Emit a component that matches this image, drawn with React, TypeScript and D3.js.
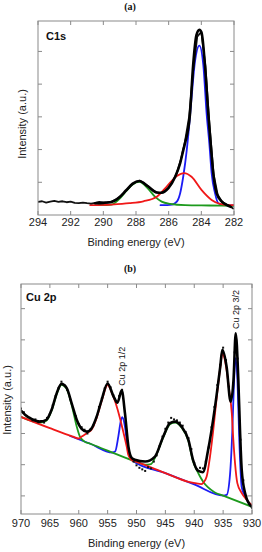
import React from "react";
import * as d3 from "d3";

type Pt = [number, number];

// ---- (a) C1s ----
const c1s_x_ticks: number[] = [294, 292, 290, 288, 286, 284, 282];
const c1s_y_ticks: number[] = [1, 2, 3, 4, 5];

// measured points
const c1s_data: Pt[] = [
    [294.0, 0.40], [293.75, 0.42], [293.5, 0.38], [293.25, 0.41], [293.0, 0.43], [292.75, 0.40],
    [292.5, 0.42], [292.25, 0.39], [292.0, 0.41], [291.75, 0.37], [291.5, 0.36], [291.25, 0.38],
    [291.0, 0.36], [290.75, 0.35], [290.5, 0.37], [290.25, 0.40], [290.0, 0.38], [289.75, 0.39],
    [289.5, 0.41], [289.25, 0.46], [289.0, 0.55], [288.75, 0.66], [288.5, 0.80], [288.25, 0.93],
    [288.0, 1.01], [287.75, 1.05], [287.5, 0.97], [287.25, 0.88], [287.0, 0.76], [286.75, 0.69],
    [286.5, 0.67], [286.25, 0.72], [286.0, 0.83], [285.75, 1.03], [285.5, 1.28], [285.25, 1.70],
    [285.0, 2.25], [284.75, 3.00], [284.5, 4.40], [284.25, 5.45], [284.0, 5.60], [283.75, 4.55],
    [283.5, 2.75], [283.25, 1.25], [283.0, 0.62], [282.75, 0.42], [282.5, 0.32], [282.25, 0.27],
    [282.05, 0.20],
];
const c1s_fit: Pt[] = [
    [290.5, 0.36], [290.0, 0.37], [289.5, 0.40], [289.0, 0.55], [288.6, 0.76], [288.2, 0.96],
    [287.8, 1.04], [287.25, 0.87], [286.73, 0.69], [286.43, 0.68], [286.02, 0.82], [285.6, 1.17],
    [285.3, 1.58], [285.1, 1.99], [285.0, 2.19], [284.7, 3.06], [284.5, 4.59], [284.3, 5.50],
    [284.12, 5.66], [283.98, 5.56], [283.78, 4.59], [283.57, 3.06], [283.43, 2.19], [283.27, 1.28],
    [283.06, 0.66], [282.75, 0.41], [282.45, 0.31], [282.2, 0.25],
];
const c1s_blue: Pt[] = [
    [286.5, 0.30], [285.8, 0.32], [285.5, 0.41], [285.3, 0.66], [285.1, 1.20], [284.9, 1.95],
    [284.75, 2.70], [284.6, 3.57], [284.39, 4.69], [284.12, 5.18], [283.88, 4.59], [283.67, 3.06],
    [283.51, 2.19], [283.37, 1.28], [283.16, 0.66], [282.96, 0.36], [282.6, 0.30], [282.0, 0.29],
];
const c1s_red: Pt[] = [
    [290.8, 0.30], [289.5, 0.32], [288.4, 0.36], [287.55, 0.42], [286.73, 0.56], [286.12, 0.87],
    [285.5, 1.19], [285.06, 1.28], [284.6, 1.17], [283.98, 0.76], [283.37, 0.46], [282.86, 0.34],
    [282.2, 0.30], [282.0, 0.30],
];
const c1s_green: Pt[] = [
    [290.3, 0.30], [289.5, 0.32], [289.0, 0.50], [288.6, 0.73], [288.2, 0.93], [287.8, 1.01],
    [287.25, 0.80], [286.84, 0.56], [286.43, 0.41], [285.9, 0.34], [285.0, 0.30], [283.5, 0.29],
    [282.0, 0.28],
];

// ---- (b) Cu 2p ----
const cu_x_ticks: number[] = [970, 965, 960, 955, 950, 945, 940, 935, 930];
const cu_y_ticks: number[] = [0, 1, 2, 3, 4, 5, 6];

const cu_data: Pt[] = [
    [970.0, 2.80], [969.5, 2.68], [969.0, 2.55], [968.5, 2.50], [968.0, 2.42], [967.5, 2.45],
    [967.0, 2.36], [966.5, 2.40], [966.0, 2.35], [965.5, 2.50], [965.0, 2.62], [964.5, 2.90],
    [964.0, 3.20], [963.5, 3.45], [963.0, 3.66], [962.5, 3.55], [962.0, 3.40], [961.5, 3.10],
    [961.0, 2.80], [960.5, 2.55], [960.0, 2.30], [959.5, 2.20], [959.0, 2.12], [958.5, 2.00],
    [958.0, 2.12], [957.5, 2.25], [957.0, 2.50], [956.5, 2.85], [956.0, 3.12], [955.5, 3.45],
    [955.0, 3.66], [954.5, 3.48], [954.0, 3.22], [953.5, 3.02], [953.0, 3.20], [952.5, 3.40],
    [952.0, 2.70], [951.5, 1.75], [951.0, 1.25], [950.5, 1.10], [950.0, 0.98], [949.5, 0.90],
    [949.0, 0.85], [948.5, 0.80], [948.0, 0.92], [947.5, 0.88], [947.0, 1.10], [946.5, 1.30],
    [946.0, 1.60], [945.5, 1.90], [945.0, 2.15], [944.5, 2.35], [944.0, 2.50], [943.5, 2.45],
    [943.0, 2.42], [942.5, 2.35], [942.0, 2.25], [941.5, 2.05], [941.0, 1.85], [940.5, 1.50],
    [940.0, 1.05], [939.5, 0.85], [939.0, 0.90], [938.5, 0.88], [938.0, 1.10], [937.5, 1.55],
    [937.0, 2.20], [936.5, 2.85], [936.0, 3.55], [935.5, 4.20], [935.0, 4.75], [934.5, 4.35],
    [934.0, 3.50], [933.5, 3.20], [933.0, 4.60], [932.5, 4.40], [932.0, 1.80], [931.5, 0.50],
    [931.0, 0.00], [930.5, -0.25], [930.0, -0.38],
];
const cu_fit: Pt[] = [
    [970, 2.73], [969.3, 2.60], [968.1, 2.46], [966.7, 2.38], [965.6, 2.44], [964.7, 2.76],
    [963.8, 3.30], [963.0, 3.59], [962.1, 3.46], [961.2, 2.95], [960.35, 2.44], [959.5, 2.15],
    [958.6, 2.06], [957.76, 2.17], [956.9, 2.54], [956.03, 3.08], [955.0, 3.60], [954.0, 3.20],
    [953.3, 2.99], [952.56, 3.38], [952.0, 2.65], [951.4, 1.58], [950.8, 1.21], [950.3, 1.16],
    [948.5, 1.10], [946.8, 1.26], [945.4, 1.89], [944.2, 2.33], [943.3, 2.38], [942.2, 2.22],
    [941.0, 1.79], [940.2, 1.15], [939.3, 0.80], [938.5, 0.76], [937.6, 1.47], [936.4, 2.86],
    [935.5, 4.14], [935.14, 4.68], [934.4, 4.14], [933.7, 3.02], [933.2, 3.72], [932.82, 5.21],
    [932.37, 3.72], [932.08, 2.12], [931.78, 0.83], [931.2, 0.09], [930.35, -0.29], [930, -0.35],
];
const cu_green: Pt[] = [
    [970, 2.53], [968.1, 2.40], [966.7, 2.35], [965.6, 2.41], [964.7, 2.73], [963.8, 3.27],
    [963.0, 3.56], [962.1, 3.43], [961.2, 2.90], [960.35, 2.22], [959.8, 1.90], [959.0, 1.74],
    [958.0, 1.67], [955, 1.45], [950, 1.09], [948.5, 1.00], [947.5, 1.02], [946.8, 1.22],
    [945.4, 1.86], [944.2, 2.30], [943.3, 2.35], [942.2, 2.19], [941.0, 1.75], [940.2, 1.10],
    [939.5, 0.80], [939.0, 0.62], [938.4, 0.44], [937.6, 0.27], [936.5, 0.12], [935, 0.01],
    [930, -0.35],
];
const cu_blue: Pt[] = [
    [961.5, 1.92], [958, 1.67], [954.2, 1.39], [953.7, 1.42], [953.15, 1.90], [952.74, 2.38],
    [952.45, 2.52], [952.0, 2.22], [951.6, 1.63], [951.1, 1.26], [950.6, 1.12], [945, 0.73],
    [940, 0.37], [935, 0.01], [934.4, 0.03], [933.8, 0.70], [933.4, 2.12], [933.1, 3.72],
    [932.87, 4.41], [932.5, 3.61], [932.2, 1.79], [931.8, 0.30], [931.2, -0.02], [930, -0.35],
];
const cu_red: Pt[] = [
    [970, 2.53], [965, 2.17], [961, 1.90], [960, 1.84], [959.5, 1.90], [958.6, 2.01],
    [957.76, 2.13], [956.9, 2.50], [956.03, 3.04], [955.0, 3.55], [954.3, 3.32], [953.6, 2.97],
    [952.86, 2.49], [952.3, 2.06], [951.7, 1.58], [951.4, 1.30], [950.8, 1.14], [950, 1.09],
    [945, 0.73], [941, 0.45], [939.6, 0.40], [938.8, 0.38], [938.43, 0.42], [937.85, 0.62],
    [937.27, 1.26], [936.7, 2.12], [936.1, 3.18], [935.5, 4.10], [935.14, 4.55], [934.4, 4.04],
    [933.96, 3.40], [933.5, 2.65], [933.23, 1.79], [932.94, 1.05], [932.54, 0.41], [931.78, 0.09],
    [930.9, -0.13], [930, -0.30],
];

const BLUE  = "#1c1cf5";
const RED   = "#f01818";
const GREEN = "#1d9a1d";
const AXIS  = "#8a8a8a";
const SANS  = "'Liberation Sans', Arial, sans-serif";
const SERIF = "'Liberation Serif', 'Times New Roman', serif";

type Box = { left: number, top: number, right: number, bottom: number };

type PanelProps = {
    id:        string,
    box:       Box,
    x_domain:  [number, number],
    y_domain:  [number, number],
    x_ticks:   number[],
    y_ticks:   number[],
    tag:       string,
    tag_y:     number,
    label:     string,
    label_pos: [number, number],
    tick_y:    number,
    title_y:   number,
    ylabel:    [number, number],
    data:      Pt[],
    data_dots: boolean,
    fit:       Pt[],
    green:     Pt[],
    blue:      Pt[],
    red:       Pt[],
    notes:     { text: string, ev: number, v: number }[],
};

function Panel(p: PanelProps): JSX.Element {
    const { box } = p;
    const x = d3.scaleLinear().domain(p.x_domain).range([box.left, box.right]);
    const y = d3.scaleLinear().domain(p.y_domain).range([box.bottom, box.top]);
    const line = d3.line<Pt>().x(d => x(d[0])).y(d => y(d[1])).curve(d3.curveMonotoneX);
    const raw  = d3.line<Pt>().x(d => x(d[0])).y(d => y(d[1])).curve(d3.curveLinear);
    const w: number = box.right - box.left;
    const h: number = box.bottom - box.top;
    const tl = 4; // tick length, pointing inward

    return <g>
        <defs>
            <clipPath id={p.id}>
                <rect x={box.left} y={box.top} width={w} height={h} />
            </clipPath>
        </defs>

        <text x={130} y={p.tag_y} fontFamily={SERIF} fontWeight="bold" fontSize={10}
            textAnchor="middle" fill="#111">{p.tag}</text>

        <g clipPath={`url(#${p.id})`} fill="none" strokeLinejoin="round" strokeLinecap="round">
            <path d={line(p.blue)!}  stroke={BLUE}  strokeWidth={1.8} />
            <path d={line(p.green)!} stroke={GREEN} strokeWidth={1.8} />
            <path d={line(p.red)!}   stroke={RED}   strokeWidth={1.8} />
            {p.data_dots
                ? p.data.map((d, i) =>
                    <rect key={i} x={x(d[0]) - 1} y={y(d[1]) - 1} width={2} height={2} fill="#111" />)
                : <path d={raw(p.data)!} stroke="#111" strokeWidth={1.8} />}
            <path d={line(p.fit)!} stroke="#000" strokeWidth={2.6} />
        </g>

        <rect x={box.left} y={box.top} width={w} height={h} fill="none" stroke={AXIS} strokeWidth={1} />
        <g stroke={AXIS} strokeWidth={1}>
            {p.x_ticks.map(t => <g key={t}>
                <line x1={x(t)} x2={x(t)} y1={box.bottom} y2={box.bottom - tl} />
                <line x1={x(t)} x2={x(t)} y1={box.top} y2={box.top + tl} />
            </g>)}
            {p.y_ticks.map(t => <g key={t}>
                <line x1={box.left} x2={box.left + tl} y1={y(t)} y2={y(t)} />
                <line x1={box.right} x2={box.right - tl} y1={y(t)} y2={y(t)} />
            </g>)}
        </g>

        <g fontFamily={SANS} fontSize={11} fill="#222" textAnchor="middle">
            {p.x_ticks.map(t => <text key={t} x={x(t)} y={p.tick_y}>{t}</text>)}
            <text x={(box.left + box.right) / 2} y={p.title_y}>Binding energy (eV)</text>
            <text transform={`translate(${p.ylabel[0]},${p.ylabel[1]}) rotate(-90)`}>Intensity (a.u.)</text>
        </g>

        <text x={p.label_pos[0]} y={p.label_pos[1]} fontFamily={SANS} fontWeight="bold"
            fontSize={11} fill="#111">{p.label}</text>

        {p.notes.map(n =>
            <text key={n.text} transform={`translate(${x(n.ev) + 3.5},${y(n.v)}) rotate(-90)`}
                fontFamily={SANS} fontSize={9} fill="#111">{n.text}</text>)}
    </g>
}

export default function App(): JSX.Element {
    return <div style={{ position: "absolute", left: 0, top: 0 }}>
        <svg width={262} height={552} style={{ display: "block", background: "#fff" }}>
            <Panel
                id="clip-a"
                box={{ left: 38, top: 21, right: 234, bottom: 215 }}
                x_domain={[294, 282]}
                y_domain={[0, 5.93]}
                x_ticks={c1s_x_ticks}
                y_ticks={c1s_y_ticks}
                tag="(a)" tag_y={10}
                label="C1s" label_pos={[46, 39.5]}
                tick_y={226} title_y={246}
                ylabel={[26, 124]}
                data={c1s_data} data_dots={false} fit={c1s_fit}
                green={c1s_green} blue={c1s_blue} red={c1s_red}
                notes={[]}
            />
            <Panel
                id="clip-b"
                box={{ left: 21, top: 284, right: 252, bottom: 514 }}
                x_domain={[970, 930]}
                y_domain={[-0.58, 6.79]}
                x_ticks={cu_x_ticks}
                y_ticks={cu_y_ticks}
                tag="(b)" tag_y={272}
                label="Cu 2p" label_pos={[26, 301]}
                tick_y={527} title_y={547}
                ylabel={[11, 400]}
                data={cu_data} data_dots={true} fit={cu_fit}
                green={cu_green} blue={cu_blue} red={cu_red}
                notes={[
                    { text: "Cu 2p 1/2", ev: 952.6, v: 3.53 },
                    { text: "Cu 2p 3/2", ev: 932.8, v: 5.35 },
                ]}
            />
        </svg>
    </div>
}
